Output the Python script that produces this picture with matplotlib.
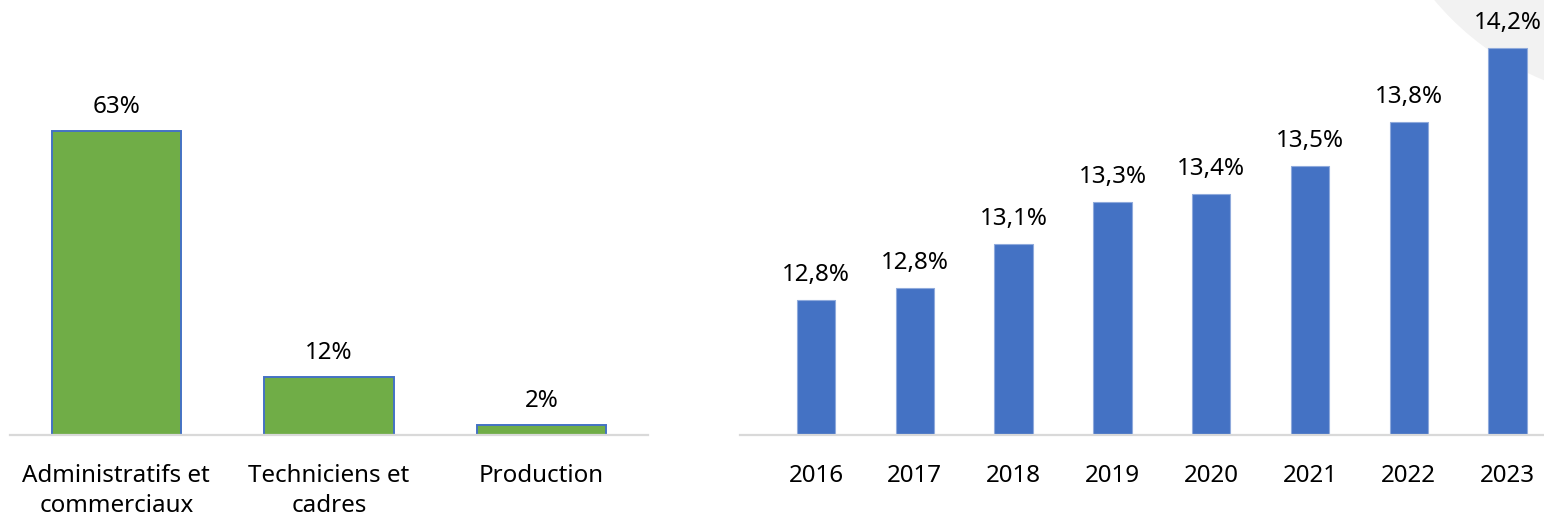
import matplotlib
matplotlib.use("Agg")
import matplotlib.pyplot as plt
from matplotlib.patches import Circle

plt.rcParams['font.family'] = ['Noto Sans', 'DejaVu Sans']

# Left panel data
categories = ["Administratifs et\ncommerciaux", "Techniciens et\ncadres", "Production"]
shares = [63, 12, 2]

# Right panel data
years = ["2016", "2017", "2018", "2019", "2020", "2021", "2022", "2023"]
rates = [12.77, 12.84, 13.09, 13.33, 13.38, 13.54, 13.79, 14.21]

W, H = 1544, 521
fig = plt.figure(figsize=(W / 100, H / 100), dpi=100)
fig.patch.set_facecolor('white')

# background axes in pixel units (origin top-left) for the decorative circle
axBG = fig.add_axes([0, 0, 1, 1], zorder=-5)
axBG.set_xlim(0, W)
axBG.set_ylim(H, 0)
axBG.axis('off')
axBG.add_patch(Circle((1650, -180), 281, facecolor='#F2F2F2', edgecolor='none'))

base_y = 435
fs = 17.4
axis_col = '#D9D9D9'

def style(ax):
    for s in ['top', 'right', 'left']:
        ax.spines[s].set_visible(False)
    ax.spines['bottom'].set_color(axis_col)
    ax.spines['bottom'].set_linewidth(1.6)
    ax.set_yticks([])
    ax.tick_params(axis='x', length=0, pad=21, labelsize=fs, colors='black')
    ax.patch.set_alpha(0)

# Left axes: x from 10 to 648 px
axL = fig.add_axes([10 / W, (H - base_y) / H, 638 / W, base_y / H])
xl = range(len(categories))
axL.bar(xl, shares, width=0.607, color='#70AD47', edgecolor='#4472C4', linewidth=1.4, zorder=2)
axL.set_xlim(-0.5, len(categories) - 0.5)
axL.set_ylim(0, base_y / 4.83)
axL.set_xticks(list(xl))
axL.set_xticklabels(categories, linespacing=1.3)
for i, v in enumerate(shares):
    axL.annotate(f"{v}%", (i, v), xytext=(0, 13), textcoords='offset points',
                 ha='center', va='baseline', fontsize=fs)
style(axL)

# Right axes: x from 740 to 1544 px
step = 98.8
left_px, right_px = 740, 1544
x0 = 816
axR = fig.add_axes([left_px / W, (H - base_y) / H, (right_px - left_px) / W, base_y / H])
xr = range(len(years))
axR.bar(xr, rates, width=0.39, color='#4472C4', edgecolor='#8FAADC', linewidth=0.8, zorder=2)
axR.set_xlim(-(x0 - left_px) / step, (right_px - x0) / step)
ymin = 12.0
axR.set_ylim(ymin, ymin + base_y / 175)
axR.set_xticks(list(xr))
axR.set_xticklabels(years)
for i, v in enumerate(rates):
    axR.annotate(f"{v:.1f}".replace('.', ',') + "%", (i, v), xytext=(0, 13.5),
                 textcoords='offset points', ha='center', va='baseline', fontsize=fs,
                 annotation_clip=False)
style(axR)

fig.savefig("out.png", dpi=100)
